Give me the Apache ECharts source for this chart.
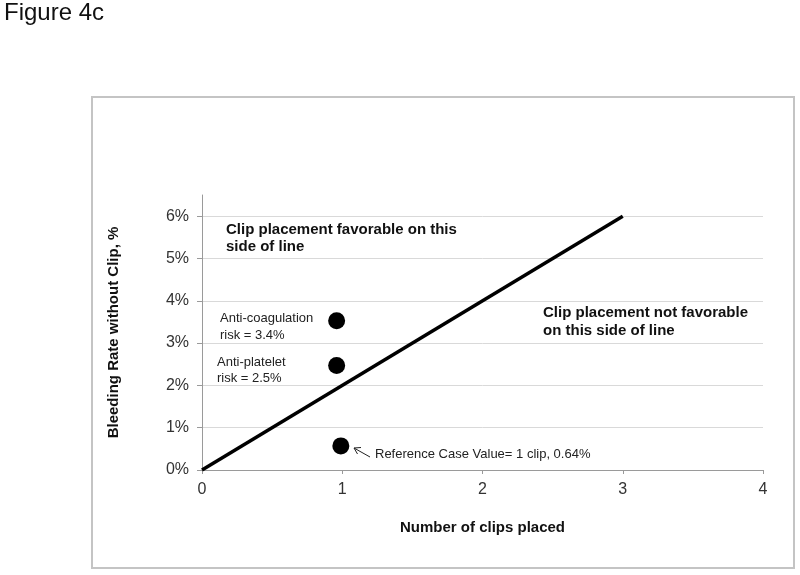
<!DOCTYPE html>
<html>
<head>
<meta charset="utf-8">
<script src="https://cdn.jsdelivr.net/npm/echarts@6/dist/echarts.min.js"></script>
<style>
html,body{margin:0;padding:0;background:#fff;}
#c{width:800px;height:575px;}
</style>
</head>
<body>
<div id="c"></div>
<script>
// Data
var xTicks = [0, 1, 2, 3, 4];
var yTicks = [0, 1, 2, 3, 4, 5, 6];
var thresholdX = [0, 3];
var thresholdY = [0, 6];
var pointNames = ['Anti-coagulation', 'Anti-platelet', 'Reference Case'];
var pointX = [0.96, 0.96, 0.99];
var pointY = [3.53, 2.47, 0.57];

var chart = echarts.init(document.getElementById('c'), null, {renderer: 'canvas'});
var FONT = 'Liberation Sans, Arial, sans-serif';

var lineData = thresholdX.map(function (x, i) { return [x, thresholdY[i]]; });
var scatterData = pointX.map(function (x, i) { return {name: pointNames[i], value: [x, pointY[i]]}; });

var option = {
  animation: false,
  backgroundColor: '#fff',
  grid: {left: 202, right: 37, top: 195, bottom: 105, containLabel: false},
  xAxis: {
    type: 'value', min: 0, max: 4, interval: 1,
    name: 'Number of clips placed', nameLocation: 'middle', nameGap: 50,
    nameTextStyle: {fontFamily: FONT, fontSize: 15, fontWeight: 'bold', color: '#111'},
    axisLine: {show: true, lineStyle: {color: '#9a9a9a', width: 1}},
    axisTick: {show: true, length: 4, lineStyle: {color: '#9a9a9a'}},
    axisLabel: {fontFamily: FONT, fontSize: 16, color: '#333', margin: 12},
    splitLine: {show: false}
  },
  yAxis: {
    type: 'value', min: 0, max: 6.5, interval: 1,
    name: 'Bleeding Rate without Clip, %', nameLocation: 'middle', nameGap: 81,
    nameTextStyle: {fontFamily: FONT, fontSize: 15, fontWeight: 'bold', color: '#111'},
    axisLine: {show: true, lineStyle: {color: '#9a9a9a', width: 1}},
    axisTick: {show: true, length: 5, lineStyle: {color: '#9a9a9a'}, customValues: yTicks},
    axisLabel: {fontFamily: FONT, fontSize: 16, color: '#333', margin: 13, customValues: yTicks,
      formatter: function (v) { return v > 6 ? '' : v + '%'; }},
    splitLine: {show: true, showMinLine: false, showMaxLine: true, lineStyle: {color: '#d9d9d9', width: 1}}
  },
  series: [
    {
      type: 'line', data: lineData, symbol: 'none',
      lineStyle: {color: '#000', width: 3.5}, z: 3
    },
    {
      type: 'scatter', data: scatterData, symbol: 'circle', symbolSize: 17,
      itemStyle: {color: '#000', opacity: 1}, z: 4
    }
  ],
  graphic: [
    {type: 'rect', shape: {x: 92, y: 97, width: 702, height: 471}, style: {fill: null, stroke: '#c4c4c4', lineWidth: 2}, silent: true},
    {type: 'text', left: 4, top: 1, style: {text: 'Figure 4c', font: '24px ' + FONT, fill: '#111'}},
    {type: 'text', left: 226, top: 221, style: {text: 'Clip placement favorable on this\nside of line', font: 'bold 15px ' + FONT, fill: '#111', lineHeight: 17}},
    {type: 'text', left: 543, top: 304, style: {text: 'Clip placement not favorable\non this side of line', font: 'bold 15px ' + FONT, fill: '#111', lineHeight: 18}},
    {type: 'text', left: 220, top: 310, style: {text: 'Anti-coagulation\nrisk = 3.4%', font: '13px ' + FONT, fill: '#222', lineHeight: 17}},
    {type: 'text', left: 217, top: 354, style: {text: 'Anti-platelet\nrisk = 2.5%', font: '13px ' + FONT, fill: '#222', lineHeight: 16}},
    {type: 'text', left: 375, top: 448, style: {text: 'Reference Case Value= 1 clip, 0.64%', font: '13px ' + FONT, fill: '#222'}},
    {type: 'line', shape: {x1: 370, y1: 457, x2: 354, y2: 448}, style: {stroke: '#222', lineWidth: 1}},
    {type: 'polyline', shape: {points: [[361, 447.5], [354, 448], [357.5, 454]]}, style: {stroke: '#222', lineWidth: 1, fill: null}}
  ]
};
chart.setOption(option);
</script>
</body>
</html>
